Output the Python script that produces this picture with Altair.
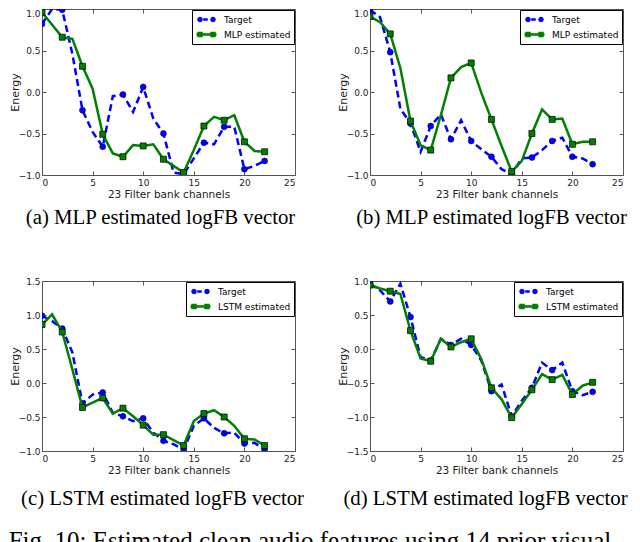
import math
import altair as alt
import pandas as pd

channels = list(range(23))

a_target = [0.82, 1.00, 0.99, 0.46, -0.22, -0.48, -0.66, -0.05, -0.03, -0.24, 0.06, -0.32, -0.50,
            -0.97, -0.99, -0.80, -0.61, -0.63, -0.42, -0.42, -0.93, -0.89, -0.83]
a_est = [0.96, 0.81, 0.66, 0.64, 0.31, 0.04, -0.51, -0.74, -0.78, -0.64, -0.65, -0.63, -0.81,
         -0.89, -0.97, -0.70, -0.41, -0.30, -0.34, -0.28, -0.60, -0.71, -0.72]

b_target = [0.99, 0.90, 0.48, -0.20, -0.38, -0.72, -0.41, -0.27, -0.57, -0.34, -0.59, -0.69, -0.78,
            -0.93, -0.99, -0.80, -0.79, -0.70, -0.59, -0.55, -0.78, -0.80, -0.87]
b_est = [0.91, 0.84, 0.70, 0.29, -0.35, -0.64, -0.70, -0.28, 0.17, 0.30, 0.35, -0.01, -0.33,
         -0.65, -0.96, -0.83, -0.50, -0.21, -0.33, -0.32, -0.63, -0.60, -0.60]

c_target = [0.99, 0.91, 0.80, 0.45, -0.30, -0.17, -0.14, -0.44, -0.49, -0.56, -0.52, -0.73, -0.85,
            -0.90, -0.98, -0.63, -0.52, -0.66, -0.74, -0.73, -0.89, -0.88, -0.98]
c_est = [0.86, 1.01, 0.75, 0.20, -0.36, -0.29, -0.22, -0.45, -0.37, -0.49, -0.62, -0.76, -0.76,
         -0.84, -0.92, -0.56, -0.45, -0.40, -0.50, -0.63, -0.82, -0.83, -0.92]

d_target = [0.96, 0.86, 0.70, 0.96, 0.47, -0.12, -0.17, 0.15, 0.06, 0.15, 0.06, -0.17, -0.62,
            -0.52, -0.99, -0.76, -0.57, -0.20, -0.31, -0.20, -0.62, -0.68, -0.63]
d_est = [0.94, 0.89, 0.85, 0.81, 0.27, -0.14, -0.18, 0.15, 0.03, 0.10, 0.15, -0.15, -0.57,
         -0.74, -1.01, -0.81, -0.60, -0.37, -0.45, -0.38, -0.67, -0.54, -0.49]

x_ticks = [0, 5, 10, 15, 20, 25]
y_ticks_ab = [-1.0, -0.5, 0.0, 0.5, 1.0]
y_ticks_c = [-1.0, -0.5, 0.0, 0.5, 1.0, 1.5]
y_ticks_d = [-1.5, -1.0, -0.5, 0.0, 0.5, 1.0]

captions = ["(a) MLP estimated logFB vector", "(b) MLP estimated logFB vector",
            "(c) LSTM estimated logFB vector", "(d) LSTM estimated logFB vector"]
fig_caption = "Fig. 10: Estimated clean audio features using 14 prior visual"

BLUE = "#0000ff"
GREEN = "#008000"
AX = "#555555"


def octagon(cx, r):
    pts = []
    for k in range(8):
        a = math.pi * k / 4
        pts.append((cx + r * math.cos(a), r * math.sin(a)))
    s = "M%.3f,%.3f" % pts[0]
    for p in pts[1:]:
        s += "L%.3f,%.3f" % p
    return s + "Z"


def square(cx, h):
    return "M%.3f,%.3fH%.3fV%.3fH%.3fZ" % (cx - h, -h, cx + h, h, cx - h)


target_sym = octagon(-0.3, 0.3) + octagon(2.3, 0.3) + "M0.35,0H1.25"
est_sym = "M-1,0H3" + square(-0.3, 0.3) + square(2.3, 0.3)


def panel(target, est, est_name, ydom, yticks, caption, height, top_row, dx, cap_offset):
    df = pd.DataFrame({"ch": channels, "target": target, "est": est})
    xs = alt.Scale(domain=[0, 25], nice=False, zero=False)
    ys = alt.Scale(domain=ydom, nice=False, zero=False)

    if top_row:
        lb = {"condition": {"test": "datum.value >= %f" % (ydom[1] - 0.01), "value": "top"},
              "value": "middle"}
    else:
        lb = "middle"

    x_bottom = alt.Axis(orient="bottom", values=x_ticks, format="d", title="23 Filter bank channels",
                        offset=-4, tickSize=4, domain=False, grid=False, labelPadding=3,
                        labelFontSize=9, titleFontSize=10.5, titlePadding=2)
    y_left = alt.Axis(orient="left", values=yticks, format=".1f", title="Energy",
                      offset=-4, tickSize=4, domain=False, grid=False, labelPadding=2,
                      labelFontSize=9, titleFontSize=11, titlePadding=-2, labelBaseline=lb)
    x_top = alt.Axis(orient="top", values=x_ticks, labels=False, title=None, offset=-4,
                     tickSize=4, domain=False, grid=False)
    y_right = alt.Axis(orient="right", values=yticks, labels=False, title=None, offset=-4,
                       tickSize=4, domain=False, grid=False)

    base = alt.Chart(df)
    t_line = base.mark_line(color=BLUE, strokeDash=[7, 4], strokeWidth=2.5, clip=True).encode(
        x=alt.X("ch:Q", scale=xs, axis=x_bottom),
        y=alt.Y("target:Q", scale=ys, axis=y_left),
    )
    t_pts = base.mark_point(filled=True, shape="circle", size=36, color=BLUE, stroke="#000033",
                            strokeWidth=0.5, opacity=1, clip=True).transform_filter(
        "datum.ch % 2 == 0").encode(
        x=alt.X("ch:Q", scale=xs, axis=None),
        y=alt.Y("target:Q", scale=ys, axis=None),
    )
    e_line = base.mark_line(color=GREEN, strokeWidth=2.5, clip=True).encode(
        x=alt.X("ch:Q", scale=xs, axis=x_top),
        y=alt.Y("est:Q", scale=ys, axis=y_right),
    )
    e_pts = base.mark_point(filled=True, shape="square", size=36, color=GREEN, stroke="black",
                            strokeWidth=0.7, opacity=1, clip=True).transform_filter(
        "datum.ch % 2 == 0").encode(
        x=alt.X("ch:Q", scale=xs, axis=None),
        y=alt.Y("est:Q", scale=ys, axis=None),
    )
    names = ["Target", est_name]
    leg = alt.Legend(title=None, orient="top-right", offset=1, padding=3, strokeColor="black",
                     fillColor="white", cornerRadius=0, labelFont="DejaVu Sans", labelFontSize=9,
                     labelColor="black", labelOffset=16, rowPadding=2, symbolSize=100,
                     symbolStrokeWidth=2.5)
    legend_layer = base.mark_point(filled=False, opacity=1, strokeWidth=2.5).transform_filter(
        "false").encode(
        color=alt.Color("series:N", scale=alt.Scale(domain=names, range=[BLUE, GREEN]), legend=leg),
        shape=alt.Shape("series:N", scale=alt.Scale(domain=names, range=[target_sym, est_sym]),
                        legend=leg),
    ).transform_calculate(series="'Target'")

    return alt.layer(t_line, t_pts, e_line, e_pts, legend_layer).resolve_axis(
        x="independent", y="independent"
    ).properties(
        width=253, height=height,
        title=alt.TitleParams(text=caption, orient="bottom", anchor="middle",
                              font="Liberation Serif", fontSize=20.8, fontWeight="normal",
                              color="black", offset=cap_offset, dx=dx),
    )


pa = panel(a_target, a_est, "MLP estimated", [-1, 1], y_ticks_ab, captions[0], 166, True, -8, 8)
pb = panel(b_target, b_est, "MLP estimated", [-1, 1], y_ticks_ab, captions[1], 166, True, -5, 8)
pc = panel(c_target, c_est, "LSTM estimated", [-1, 1.5], y_ticks_c, captions[2], 170, False, -6, 13)
pd_ = panel(d_target, d_est, "LSTM estimated", [-1.5, 1], y_ticks_d, captions[3], 170, False, -11, 13)

chart = alt.concat(pa, pb, pc, pd_, columns=2, spacing={"row": 106, "column": 75},
                   bounds="flush").resolve_scale(
    x="independent", y="independent", color="independent", shape="independent"
).resolve_legend(color="independent", shape="independent").properties(
    padding=0,
    title=alt.TitleParams(text=fig_caption, orient="bottom", anchor="start",
                          font="Liberation Serif", fontSize=25, fontWeight="normal",
                          color="black", offset=20),
).configure_view(stroke=AX, strokeWidth=1).configure_axis(
    labelFont="DejaVu Sans", titleFont="DejaVu Sans", labelColor="#222", titleColor="#222",
    tickColor=AX, titleFontWeight="normal", tickWidth=1
)

chart.save("out.html", embed_options={"renderer": "svg", "actions": False})
